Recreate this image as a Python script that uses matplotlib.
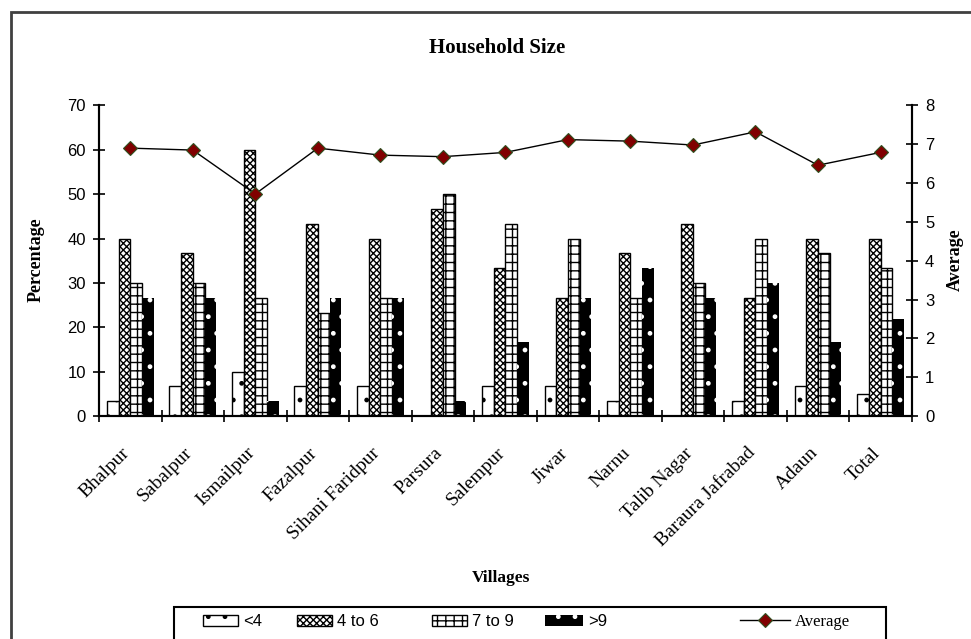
import matplotlib
matplotlib.use("Agg")
import matplotlib.pyplot as plt
import matplotlib.transforms as mtransforms
import numpy as np
from matplotlib.patches import Rectangle

villages = ["Bhalpur", "Sabalpur", "Ismailpur", "Fazalpur", "Sihani Faridpur",
            "Parsura", "Salempur", "Jiwar", "Narnu", "Talib Nagar",
            "Baraura Jafrabad", "Adaun", "Total"]
size_lt4 = [3.3, 6.7, 10.0, 6.7, 6.7, 0.0, 6.7, 6.7, 3.3, 0.0, 3.3, 6.7, 5.0]
size_4to6 = [40.0, 36.7, 60.0, 43.3, 40.0, 46.7, 33.3, 26.7, 36.7, 43.3, 26.7, 40.0, 40.0]
size_7to9 = [30.0, 30.0, 26.7, 23.3, 26.7, 50.0, 43.3, 40.0, 26.7, 30.0, 40.0, 36.7, 33.3]
size_gt9 = [26.7, 26.7, 3.3, 26.7, 26.7, 3.3, 16.7, 26.7, 33.3, 26.7, 30.0, 16.7, 21.8]
average = [6.9, 6.85, 5.72, 6.9, 6.72, 6.68, 6.79, 7.12, 7.08, 6.98, 7.32, 6.46, 6.79]

SERIF = "Liberation Serif"
SANS = "Liberation Sans"
plt.rcParams["hatch.linewidth"] = 1.0

fig = plt.figure(figsize=(9.71, 6.39), dpi=100)
ax = fig.add_axes([0.102, 0.349, 0.837, 0.486])
ax2 = ax.twinx()

x = np.arange(len(villages))
w = 0.187
b1 = ax.bar(x - 1.5 * w, size_lt4, w, facecolor="white", edgecolor="black",
            hatch=".", linewidth=1)
b2 = ax.bar(x - 0.5 * w, size_4to6, w, facecolor="white", edgecolor="black",
            hatch="xxxxx", linewidth=1)
b3 = ax.bar(x + 0.5 * w, size_7to9, w, facecolor="white", edgecolor="black",
            hatch="++", linewidth=1)
b4 = ax.bar(x + 1.5 * w, size_gt9, w, facecolor="black", edgecolor="white",
            hatch=".", linewidth=0)

ln, = ax2.plot(x, average, color="black", lw=1, marker="D", markersize=7.5,
               markerfacecolor="#800000", markeredgecolor="#2f4f1f",
               markeredgewidth=0.8)

ax.set_xlim(-0.5, len(villages) - 0.5)
ax.set_ylim(0, 70)
ax2.set_ylim(0, 8)
ax.set_yticks(range(0, 71, 10))
ax2.set_yticks(range(0, 9))

# category boundaries carry the tick marks, centres carry the labels
ax.set_xticks(np.arange(-0.5, len(villages), 1.0))
ax.set_xticklabels([])
ax.set_xticks(x, minor=True)
ax.set_xticklabels(villages, minor=True, rotation=45, ha="right",
                   rotation_mode="anchor", family=SERIF, fontsize=14)
ax.tick_params(axis="x", which="minor", length=0, pad=14)
ax.tick_params(axis="x", which="major", direction="inout", length=9, width=1.2)
shift = mtransforms.ScaledTranslation(-9 / 100, -9 / 100, fig.dpi_scale_trans)
for lab in ax.get_xticklabels(minor=True):
    lab.set_transform(lab.get_transform() + shift)

for a in (ax, ax2):
    a.spines["top"].set_visible(False)
    for s in a.spines.values():
        s.set_linewidth(1.5)
ax.tick_params(axis="y", direction="inout", length=9, width=1.2,
               labelsize=12, pad=5)
ax2.tick_params(axis="y", direction="inout", length=9, width=1.2,
                labelsize=12, pad=5)
for lab in ax.get_yticklabels() + ax2.get_yticklabels():
    lab.set_family(SANS)

fig.text(0.512, 0.925, "Household Size", ha="center", va="center",
         family=SERIF, weight="bold", fontsize=15)
fig.text(0.037, 0.593, "Percentage", ha="center", va="center", rotation=90,
         family=SERIF, weight="bold", fontsize=13)
fig.text(0.984, 0.593, "Average", ha="center", va="center", rotation=90,
         family=SERIF, weight="bold", fontsize=13)
fig.text(0.516, 0.095, "Villages", ha="center", va="center",
         family=SERIF, weight="bold", fontsize=12.5)

# legend: one frameless entry per series inside a shared box
entries = [(b1, "<4", SANS, 2.1, 203), (b2, "4 to 6", SANS, 2.1, 297),
           (b3, "7 to 9", SANS, 2.1, 432), (b4, ">9", SANS, 2.3, 545),
           (ln, "Average", SERIF, 3.0, 740)]
for handle, text, family, hlen, px in entries:
    lg = fig.legend([handle], [text], loc="center left",
                    bbox_to_anchor=(px / 971, 0.027), frameon=False,
                    borderpad=0, borderaxespad=0, handlelength=hlen,
                    handleheight=0.6, handletextpad=0.3,
                    prop={"family": family, "size": 12})
fig.patches.append(Rectangle((174 / 971, -0.02), 712 / 971, 0.02 + 32 / 639,
                             transform=fig.transFigure, fill=False,
                             edgecolor="black", linewidth=1.5))

# outer chart frame, open to the right and bottom
fig.patches.append(Rectangle((11 / 971, -0.2), 2.0, 1.2 - 12 / 639,
                             transform=fig.transFigure, fill=False,
                             edgecolor="#404040", linewidth=2))

fig.savefig("out.png", dpi=100)
